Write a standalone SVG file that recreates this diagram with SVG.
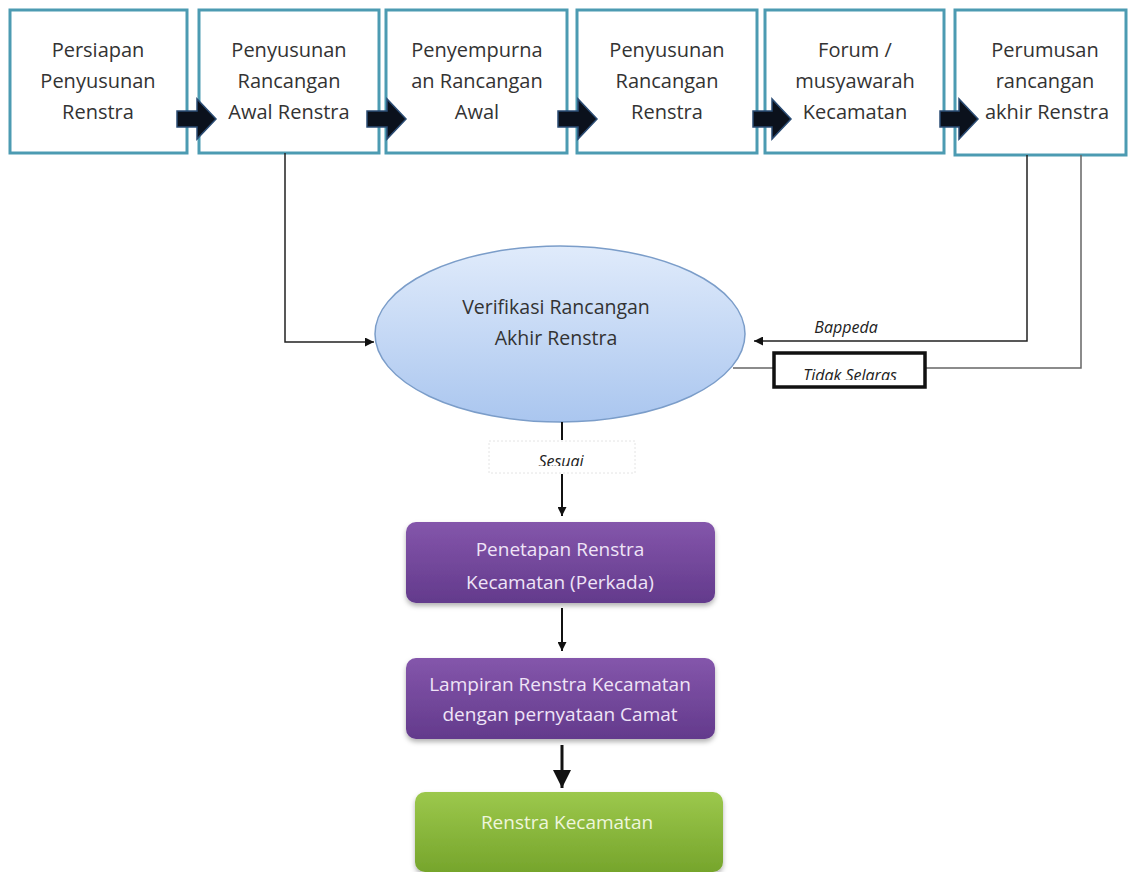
<svg xmlns="http://www.w3.org/2000/svg" width="1128" height="872" viewBox="0 0 1128 872">
<style>
.box{fill:#ffffff;stroke:#4c9bb2;stroke-width:3}
.bt{font-family:"Open Sans","Liberation Sans",sans-serif;font-size:20px;fill:#333333;text-anchor:middle}
.et{font-family:"Open Sans","Liberation Sans",sans-serif;font-size:19.5px;fill:#333333;text-anchor:middle}
.blk{fill:#0b111c;stroke:#2b4c74;stroke-width:1.5}
.ln{fill:none;stroke:#222;stroke-width:1.5}
.lnv{fill:none;stroke:#111;stroke-width:2}
.lab{font-family:"Open Sans","Liberation Sans",sans-serif;font-size:16px;font-style:italic;fill:#222;text-anchor:middle}
.pt{font-family:"Open Sans","Liberation Sans",sans-serif;font-size:19px;fill:#efe4f7;text-anchor:middle}
.gt{font-family:"Open Sans","Liberation Sans",sans-serif;font-size:19px;fill:#eef6dc;text-anchor:middle}
</style>
<defs>
<marker id="ah" viewBox="0 0 10 10" refX="10" refY="5" markerWidth="6" markerHeight="6" orient="auto" markerUnits="strokeWidth">
<path d="M0,0 L10,5 L0,10 z" fill="#111"/>
</marker>
<marker id="ah2" viewBox="0 0 10 10" refX="10" refY="5" markerWidth="4.5" markerHeight="4.5" orient="auto" markerUnits="strokeWidth">
<path d="M0,0 L10,5 L0,10 z" fill="#111"/>
</marker>
<linearGradient id="eg" x1="0" y1="0" x2="0" y2="1">
<stop offset="0" stop-color="#e0ebfb"/>
<stop offset="1" stop-color="#aac6ef"/>
</linearGradient>
<linearGradient id="pg" x1="0" y1="0" x2="0" y2="1">
<stop offset="0" stop-color="#8456ab"/>
<stop offset="1" stop-color="#633a8c"/>
</linearGradient>
<linearGradient id="gg" x1="0" y1="0" x2="0" y2="1">
<stop offset="0" stop-color="#9cc84c"/>
<stop offset="1" stop-color="#76a52c"/>
</linearGradient>
<filter id="sh" x="-10%" y="-10%" width="120%" height="130%">
<feDropShadow dx="0" dy="3" stdDeviation="2.5" flood-color="#000" flood-opacity="0.3"/>
</filter>
<clipPath id="c1"><rect x="775" y="354" width="150" height="26"/></clipPath>
<clipPath id="c2"><rect x="489" y="441" width="146" height="25"/></clipPath>
</defs>

<g id="n1"><rect class="box" x="10" y="10" width="177" height="143"/>
<text class="bt" x="98" y="57">Persiapan</text><text class="bt" x="98" y="88">Penyusunan</text><text class="bt" x="98" y="119">Renstra</text></g>
<g id="n2"><rect class="box" x="199" y="10" width="180" height="143"/>
<text class="bt" x="289" y="57">Penyusunan</text><text class="bt" x="289" y="88">Rancangan</text><text class="bt" x="289" y="119">Awal Renstra</text></g>
<g id="n3"><rect class="box" x="386" y="10" width="181" height="143"/>
<text class="bt" x="477" y="57">Penyempurna</text><text class="bt" x="477" y="88">an Rancangan</text><text class="bt" x="477" y="119">Awal</text></g>
<g id="n4"><rect class="box" x="577" y="10" width="180" height="143"/>
<text class="bt" x="667" y="57">Penyusunan</text><text class="bt" x="667" y="88">Rancangan</text><text class="bt" x="667" y="119">Renstra</text></g>
<g id="n5"><rect class="box" x="765" y="10" width="179" height="143"/>
<text class="bt" x="855" y="57">Forum /</text><text class="bt" x="855" y="88">musyawarah</text><text class="bt" x="855" y="119">Kecamatan</text></g>
<g id="n6"><rect class="box" x="955" y="10" width="171" height="145"/>
<text class="bt" x="1045" y="57">Perumusan</text><text class="bt" x="1045" y="88">rancangan</text><text class="bt" x="1047" y="119">akhir Renstra</text></g>

<g id="n7"><ellipse cx="560" cy="334" rx="185" ry="88" fill="url(#eg)" stroke="#7b9dc9" stroke-width="1.5"/>
<text class="et" x="556" y="314">Verifikasi Rancangan</text><text class="et" x="556" y="345">Akhir Renstra</text></g>

<g id="n8"><rect x="406" y="522" width="309" height="81" rx="10" fill="url(#pg)" filter="url(#sh)"/>
<text class="pt" x="560" y="556">Penetapan Renstra</text><text class="pt" x="560" y="589">Kecamatan (Perkada)</text></g>
<g id="n9"><rect x="406" y="658" width="309" height="81" rx="10" fill="url(#pg)" filter="url(#sh)"/>
<text class="pt" x="560" y="691">Lampiran Renstra Kecamatan</text><text class="pt" x="560" y="721">dengan pernyataan Camat</text></g>
<g id="n10"><rect x="415" y="792" width="308" height="80" rx="10" fill="url(#gg)" filter="url(#sh)"/>
<text class="gt" x="567" y="829">Renstra Kecamatan</text></g>

<g id="connectors">
<polygon class="blk" points="177,111 197,111 197,99 216,119 197,139 197,127 177,127"/>
<polygon class="blk" points="367,111 387,111 387,99 406,119 387,139 387,127 367,127"/>
<polygon class="blk" points="558,111 578,111 578,99 597,119 578,139 578,127 558,127"/>
<polygon class="blk" points="753,111 772,111 772,99 791,119 772,139 772,127 753,127"/>
<polygon class="blk" points="940,111 959,111 959,99 978,119 959,139 959,127 940,127"/>

<polyline class="ln" points="285,153 285,342 374,342" marker-end="url(#ah)"/>
<polyline class="ln" points="1027,155 1027,341 754,341" marker-end="url(#ah)"/>
<text class="lab" x="846" y="333">Bappeda</text>
<polyline fill="none" stroke="#666" stroke-width="1.5" points="1081,155 1081,368 733,368"/>
<rect x="774" y="353" width="151" height="34" fill="#fff" stroke="#111" stroke-width="3.5"/>
<text class="lab" x="850" y="381" clip-path="url(#c1)">Tidak Selaras</text>

<line class="lnv" x1="562" y1="422" x2="562" y2="440"/>
<rect x="489" y="441" width="146" height="32" fill="#fff" stroke="#e4e4e4" stroke-width="1" stroke-dasharray="2,2"/>
<text class="lab" x="561" y="467" clip-path="url(#c2)">Sesuai</text>
<line class="lnv" x1="562" y1="474" x2="562" y2="516" marker-end="url(#ah2)"/>
<line class="lnv" x1="562" y1="608" x2="562" y2="651" marker-end="url(#ah2)"/>
<line x1="562" y1="745" x2="562" y2="788" stroke="#111" stroke-width="3" marker-end="url(#ah)"/>
</g>
</svg>
